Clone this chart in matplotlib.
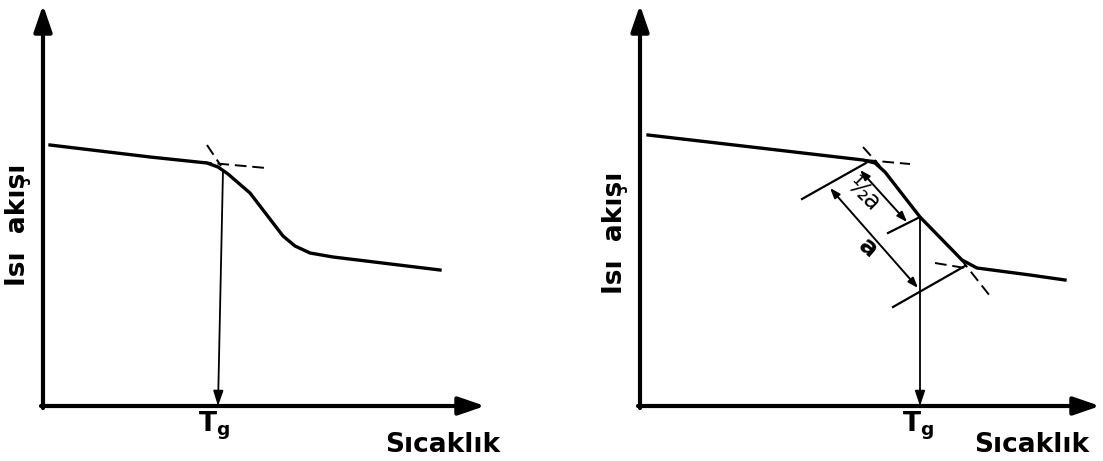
import matplotlib.pyplot as plt

plt.rcParams['font.family'] = ['DejaVu Sans']

# DSC eğrileri: sıcaklık (T) ve ısı akışı (Q), eksen başlangıcına göre keyfi birimler
sol_T = [7, 107, 164, 175, 185, 207, 240, 252, 267, 290, 397]
sol_Q = [261, 249, 243, 239, 232, 213, 170, 160, 153, 149, 136]

sag_T = [8, 120, 223, 235, 245, 280, 322, 337, 390, 425]
sag_Q = [271, 258, 246, 243, 234, 189, 146, 138, 131, 126]

# teğet (kesikli) çizgiler: [(T1, Q1), (T2, Q2)]
sol_tegetler = [[(157, 244), (223, 238)], [(164, 261), (178, 240)]]
sag_tegetler = [[(225, 246), (270, 242)], [(223, 259), (240, 240)],
                [(295, 143), (325, 138)], [(320, 148), (350, 110)]]

# sağ grafikteki dik yardımcı çizgiler ve ölçü okları
sag_dikler = [[(162, 207), (226, 243)], [(248, 173), (280, 189)],
              [(253, 99), (325, 140)]]
olcu_a = [(190, 218), (278, 118)]
olcu_yarim_a = [(220, 236), (267, 184)]

# Tg noktaları
sol_tg = 175
sol_tg_ust = (180, 236)
sag_tg = 280
sag_tg_ust = (280, 189)

eksen_uc_x = [442, 460]
eksen_uc_y = 401

fig = plt.figure(figsize=(11.03, 4.61), dpi=100)
ax1 = fig.add_axes([0, 0, 0.5, 1])
ax2 = fig.add_axes([0.5, 0, 0.5, 1])
ax1.set_xlim(-43, 508.5)
ax2.set_xlim(-88.5, 463)
for ax in (ax1, ax2):
    ax.set_ylim(-55, 406)
    ax.set_axis_off()


def eksenler(ax, x_uc):
    ok = dict(arrowstyle='-|>,head_length=1.6,head_width=0.55', lw=3,
              color='black', shrinkA=0, shrinkB=0)
    ax.annotate('', xy=(0, eksen_uc_y), xytext=(0, -2), arrowprops=ok)
    ax.annotate('', xy=(x_uc, 0), xytext=(-2, 0), arrowprops=ok)


def kesikli(ax, cizgiler):
    for (a, b) in cizgiler:
        ax.plot([a[0], b[0]], [a[1], b[1]], color='black', lw=1.4,
                linestyle=(0, (6, 3)))


def tg_oku(ax, ust, tg):
    ax.annotate('', xy=(tg, 0), xytext=ust,
                arrowprops=dict(arrowstyle='-|>,head_length=0.9,head_width=0.3',
                                lw=1.3, color='black', shrinkA=0, shrinkB=0))


yazi = dict(fontweight='bold', ha='center', va='center')
tg_yazi = r'T$_\mathregular{g}$'

# sol grafik
eksenler(ax1, eksen_uc_x[0])
ax1.plot(sol_T, sol_Q, color='black', lw=2.4, solid_joinstyle='round')
kesikli(ax1, sol_tegetler)
tg_oku(ax1, sol_tg_ust, sol_tg)
ax1.text(sol_tg - 4, -20, tg_yazi, fontsize=19, **yazi)
ax1.text(400, -39, 'Sıcaklık', fontsize=19, **yazi)
ax1.text(-25, 181, 'Isı  akışı', fontsize=19, rotation=90, **yazi)

# sağ grafik
eksenler(ax2, eksen_uc_x[1])
ax2.plot(sag_T, sag_Q, color='black', lw=2.4, solid_joinstyle='round')
kesikli(ax2, sag_tegetler)
for (a, b) in sag_dikler:
    ax2.plot([a[0], b[0]], [a[1], b[1]], color='black', lw=1.6)
for (a, b) in (olcu_a, olcu_yarim_a):
    ax2.annotate('', xy=b, xytext=a,
                 arrowprops=dict(arrowstyle='<|-|>,head_length=0.6,head_width=0.22',
                                 lw=1.4, color='black', shrinkA=0, shrinkB=0))
tg_oku(ax2, sag_tg_ust, sag_tg)
ax2.text(223, 211, '½a', fontsize=17, rotation=-45, ha='center', va='center')
ax2.text(228, 158, 'a', fontsize=18, rotation=-40, **yazi)
ax2.text(sag_tg - 2, -20, tg_yazi, fontsize=19, **yazi)
ax2.text(392, -39, 'Sıcaklık', fontsize=19, **yazi)
ax2.text(-25, 173, 'Isı  akışı', fontsize=19, rotation=90, **yazi)

fig.savefig('out.png', dpi=100)
